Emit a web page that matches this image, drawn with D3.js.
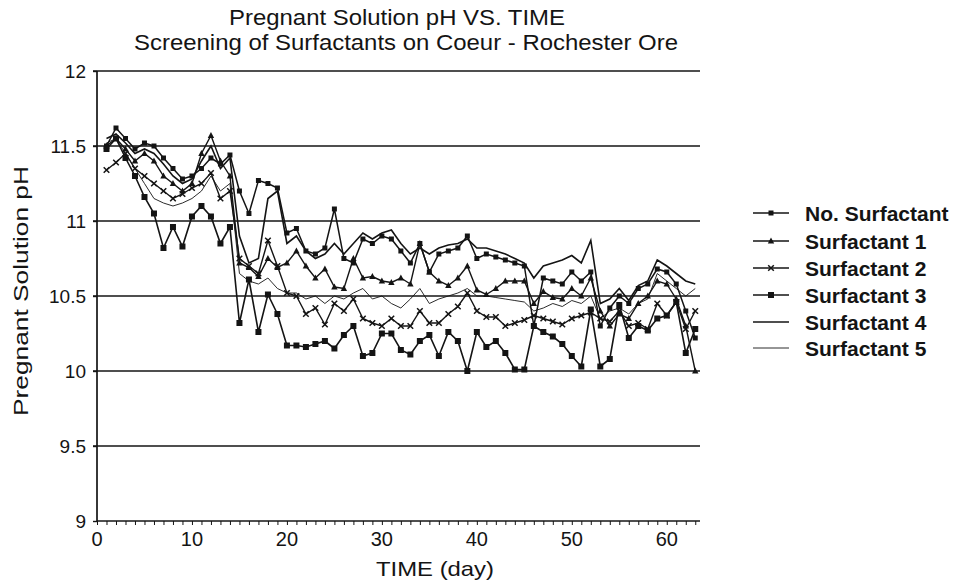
<!DOCTYPE html>
<html>
<head>
<meta charset="utf-8">
<script src="https://cdn.jsdelivr.net/npm/d3@7"></script>
<style>
  html, body { margin: 0; padding: 0; background: #fff; }
  svg { display: block; font-family: "Liberation Sans", Arial, Helvetica, sans-serif; }
</style>
</head>
<body>
<svg id="chart" width="961" height="581"></svg>
<script>
// ---- data ----
const days = d3.range(1, 64);
const noSurfactant = [11.50,11.62,11.55,11.48,11.52,11.50,11.42,11.35,11.28,11.30,11.35,11.42,11.38,11.44,11.20,11.05,11.27,11.25,11.22,10.92,10.95,10.80,10.78,10.82,11.08,10.75,10.72,10.88,10.85,10.90,10.88,10.80,10.72,10.85,10.66,10.78,10.80,10.82,10.90,10.75,10.78,10.76,10.74,10.72,10.70,10.30,10.62,10.60,10.58,10.66,10.60,10.66,10.30,10.42,10.50,10.45,10.55,10.58,10.68,10.66,10.58,10.40,10.22];
const surfactant1 = [11.50,11.55,11.48,11.40,11.45,11.40,11.30,11.25,11.20,11.25,11.45,11.57,11.40,11.30,10.72,10.69,10.63,10.75,10.69,10.72,10.80,10.70,10.62,10.68,10.56,10.55,10.75,10.62,10.63,10.60,10.59,10.62,10.58,10.85,10.66,10.60,10.57,10.62,10.70,10.54,10.51,10.55,10.60,10.60,10.60,10.45,10.53,10.49,10.48,10.55,10.50,10.62,10.40,10.30,10.38,10.35,10.45,10.50,10.60,10.58,10.48,10.30,10.00];
const surfactant2 = [11.34,11.39,11.45,11.35,11.30,11.25,11.20,11.15,11.18,11.22,11.25,11.32,11.15,11.20,10.75,10.70,10.65,10.87,10.70,10.52,10.50,10.38,10.42,10.31,10.45,10.40,10.48,10.35,10.32,10.30,10.35,10.30,10.30,10.40,10.32,10.32,10.38,10.43,10.52,10.40,10.36,10.36,10.30,10.32,10.34,10.37,10.35,10.33,10.31,10.35,10.37,10.39,10.35,10.33,10.40,10.30,10.32,10.28,10.45,10.37,10.46,10.28,10.40];
const surfactant3 = [11.48,11.55,11.42,11.30,11.16,11.05,10.82,10.96,10.83,11.03,11.10,11.03,10.85,10.96,10.32,10.61,10.26,10.51,10.38,10.17,10.17,10.16,10.18,10.20,10.15,10.24,10.30,10.10,10.12,10.25,10.25,10.14,10.11,10.20,10.24,10.10,10.26,10.20,10.00,10.26,10.16,10.20,10.12,10.01,10.01,10.30,10.26,10.23,10.18,10.10,10.03,10.41,10.03,10.08,10.44,10.22,10.30,10.27,10.35,10.37,10.46,10.12,10.28];
const surfactant4 = [11.55,11.58,11.52,11.45,11.48,11.45,11.38,11.30,11.25,11.28,11.40,11.50,11.35,11.42,10.90,10.72,10.75,11.15,11.20,10.85,10.90,10.80,10.75,10.78,10.85,10.78,10.85,10.92,10.88,10.92,10.94,10.85,10.78,10.82,10.78,10.82,10.84,10.85,10.88,10.82,10.82,10.80,10.78,10.75,10.72,10.62,10.70,10.72,10.74,10.77,10.72,10.87,10.45,10.48,10.55,10.47,10.57,10.60,10.74,10.70,10.65,10.60,10.58];
const surfactant5 = [11.52,11.55,11.45,11.35,11.25,11.15,11.12,11.10,11.12,11.15,11.20,11.30,11.20,11.25,10.65,10.60,10.58,10.62,10.55,10.52,10.52,10.48,10.50,10.45,10.50,10.48,10.52,10.55,10.48,10.50,10.45,10.42,10.48,10.55,10.45,10.48,10.50,10.52,10.55,10.50,10.50,10.49,10.48,10.47,10.46,10.40,10.42,10.45,10.43,10.47,10.45,10.50,10.35,10.40,10.42,10.38,10.45,10.48,10.65,10.60,10.55,10.50,10.55];
const seriesNames = ["No. Surfactant","Surfactant 1","Surfactant 2","Surfactant 3","Surfactant 4","Surfactant 5"];
const yTicks = [9, 9.5, 10, 10.5, 11, 11.5, 12];
const yTickLabels = ["9","9.5","10","10.5","11","11.5","12"];
const xTicks = [0, 10, 20, 30, 40, 50, 60];
const titleLines = ["Pregnant Solution pH VS. TIME", "Screening of Surfactants on Coeur - Rochester Ore"];
const xLabel = "TIME (day)";
const yLabel = "Pregnant Solution pH";

// ---- build ----
const seriesValues = [noSurfactant, surfactant1, surfactant2, surfactant3, surfactant4, surfactant5];
const markerTypes = ["sq", "tri", "x", "sqL", "none", "none"];
const widths = [1.5, 1.4, 1.4, 1.6, 1.6, 0.9];

const svg = d3.select("#chart");
const ink = "#141414";
const x = d3.scaleLinear().domain([0, 63.5]).range([97, 700]);
const y = d3.scaleLinear().domain([9, 12]).range([521, 71]);

// gridlines
svg.append("g").selectAll("line").data(yTicks.filter(v => v > 9)).join("line")
  .attr("x1", x(0) - 4).attr("x2", x(63.5))
  .attr("y1", d => y(d)).attr("y2", d => y(d))
  .attr("stroke", ink).attr("stroke-width", 1.7);

// series
const line = d3.line().x((d, i) => x(days[i])).y(d => y(d));
seriesValues.forEach((vals, k) => {
  svg.append("path").datum(vals)
    .attr("d", line).attr("fill", "none")
    .attr("stroke", ink).attr("stroke-width", widths[k])
    .attr("stroke-linejoin", "miter");
});

function drawMarker(g, type, cx, cy) {
  if (type === "sq") {
    g.append("rect").attr("x", cx - 2.5).attr("y", cy - 2.5).attr("width", 5).attr("height", 5).attr("fill", ink);
  } else if (type === "sqL") {
    g.append("rect").attr("x", cx - 3).attr("y", cy - 3).attr("width", 6).attr("height", 6).attr("fill", ink);
  } else if (type === "tri") {
    g.append("path").attr("d", `M${cx},${cy-3.5}L${cx+3.2},${cy+2.5}L${cx-3.2},${cy+2.5}Z`).attr("fill", ink);
  } else if (type === "x") {
    g.append("path").attr("d", `M${cx-2.8},${cy-2.8}L${cx+2.8},${cy+2.8}M${cx-2.8},${cy+2.8}L${cx+2.8},${cy-2.8}`)
      .attr("stroke", ink).attr("stroke-width", 1.5);
  }
}
seriesValues.forEach((vals, k) => {
  if (markerTypes[k] === "none") return;
  const g = svg.append("g");
  vals.forEach((v, i) => drawMarker(g, markerTypes[k], x(days[i]), y(v)));
});

// x axis
const xAxis = svg.append("g").attr("transform", `translate(0,${y(9)})`);
xAxis.call(d3.axisBottom(x).tickValues(d3.range(0, 64)).tickSize(4).tickFormat(""));
xAxis.select(".domain").attr("stroke", ink).attr("stroke-width", 1.7).attr("d", `M${x(0)},0H${x(63.5)}`);
xAxis.selectAll(".tick line").attr("stroke", ink).attr("stroke-width", 1);
svg.append("g").selectAll("text").data(xTicks).join("text")
  .attr("x", d => x(d)).attr("y", 546)
  .attr("text-anchor", "middle").attr("font-size", 20).attr("fill", ink)
  .text(d => d);

// y axis
const yAxis = svg.append("g").attr("transform", `translate(${x(0)},0)`);
yAxis.call(d3.axisLeft(y).tickValues(yTicks).tickSize(4).tickFormat(""));
yAxis.select(".domain").attr("stroke", ink).attr("stroke-width", 1.7).attr("d", `M0,${y(12)}V${y(9)}`);
yAxis.selectAll(".tick line").attr("stroke", ink).attr("stroke-width", 1.4);
svg.append("g").selectAll("text").data(yTicks).join("text")
  .attr("x", 86).attr("y", d => y(d) + 7)
  .attr("text-anchor", "end").attr("font-size", 19).attr("fill", ink)
  .text((d, i) => yTickLabels[i]);

// titles
svg.append("text").attr("x", 397).attr("y", 25).attr("text-anchor", "middle")
  .attr("font-size", 21.5).attr("fill", ink)
  .attr("textLength", 336).attr("lengthAdjust", "spacingAndGlyphs").text(titleLines[0]);
svg.append("text").attr("x", 406).attr("y", 50).attr("text-anchor", "middle")
  .attr("font-size", 21.5).attr("fill", ink)
  .attr("textLength", 544).attr("lengthAdjust", "spacingAndGlyphs").text(titleLines[1]);

// axis labels
svg.append("text").attr("x", 435).attr("y", 576).attr("text-anchor", "middle")
  .attr("font-size", 21).attr("fill", ink)
  .attr("textLength", 118).attr("lengthAdjust", "spacingAndGlyphs").text(xLabel);
svg.append("text").attr("transform", "translate(28,291) rotate(-90)").attr("text-anchor", "middle")
  .attr("font-size", 20).attr("fill", ink)
  .attr("textLength", 250).attr("lengthAdjust", "spacingAndGlyphs").text(yLabel);

// legend
const legY = [213, 241, 268, 295, 322, 348];
const leg = svg.append("g");
seriesNames.forEach((name, k) => {
  const ly = legY[k];
  leg.append("line").attr("x1", 753).attr("x2", 789).attr("y1", ly).attr("y2", ly)
    .attr("stroke", ink).attr("stroke-width", widths[k]);
  drawMarker(leg, markerTypes[k], 771, ly);
  leg.append("text").attr("x", 805).attr("y", ly + 7.5)
    .attr("font-size", 21).attr("font-weight", "bold").attr("fill", ink).text(name);
});
</script>
</body>
</html>
